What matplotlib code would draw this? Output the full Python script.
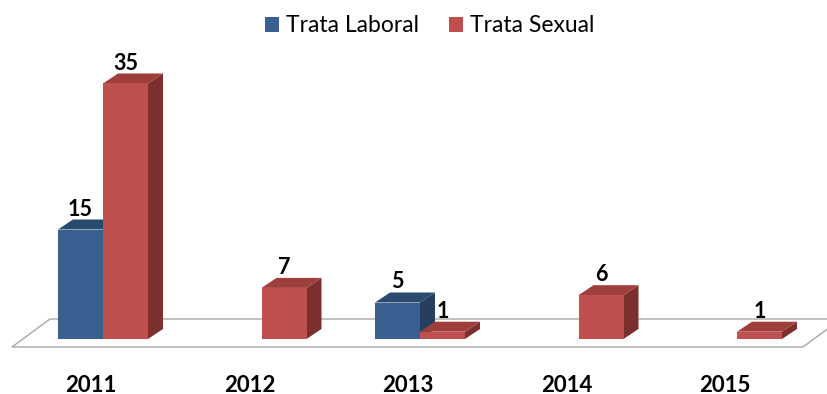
import numpy as np
import matplotlib
matplotlib.use("Agg")
import matplotlib.pyplot as plt
from matplotlib.patches import Polygon, Patch

years = ["2011", "2012", "2013", "2014", "2015"]
laboral = [15, np.nan, 5, np.nan, np.nan]
sexual = [35, 7, 1, 6, 1]
series_names = ["Trata Laboral", "Trata Sexual"]

# front, top, side shades for each series
blue = ("#3a6091", "#2b4a6f", "#243f5f")
red = ("#c0504d", "#9e3f3c", "#7c302e")

W, H = 828, 394
fig = plt.figure(figsize=(W / 100, H / 100), dpi=100)
ax = fig.add_axes([0, 0, 1, 1])

# pixel scale of the axes: 158.5 px per category, 7.3 px per unit
px_x, px_y = 158.5, 7.3
x0_px, y0_px = 103, 55
ax.set_xlim(-x0_px / px_x, (W - x0_px) / px_x)
ax.set_ylim(-y0_px / px_y, (H - y0_px) / px_y)
ax.axis("off")

bar_w = 45 / px_x
ddx, ddy = 15 / px_x, 10 / px_y


def bar3d(x_left, val, shades):
    front, top, side = shades
    x_r = x_left + bar_w
    ax.add_patch(Polygon([(x_r, 0), (x_r + ddx, ddy), (x_r + ddx, val + ddy), (x_r, val)],
                         closed=True, fc=side, ec="none", zorder=3))
    ax.add_patch(Polygon([(x_left, val), (x_r, val), (x_r + ddx, val + ddy), (x_left + ddx, val + ddy)],
                         closed=True, fc=top, ec="none", zorder=3))
    ax.add_patch(Polygon([(x_left, 0), (x_r, 0), (x_r, val), (x_left, val)],
                         closed=True, fc=front, ec="none", zorder=3))
    ax.text(x_left + bar_w / 2, val + ddy, f"{val:g}", ha="center", va="bottom",
            fontsize=15.5, fontweight="bold", family="Lato", color="black", zorder=4)


# floor
fl_front, fl_back = -8 / px_y, 20 / px_y
fl_l, fl_r = (12 - x0_px) / px_x, (803 - x0_px) / px_x
fdx = 38 / px_x
ax.add_patch(Polygon([(fl_l, fl_front), (fl_r, fl_front), (fl_r + fdx, fl_back), (fl_l + fdx, fl_back)],
                     closed=True, fc="white", ec="#a6a6a6", lw=1.0, zorder=1))

for i, yr in enumerate(years):
    if not np.isnan(laboral[i]):
        bar3d(i - bar_w, laboral[i], blue)
    if not np.isnan(sexual[i]):
        bar3d(i, sexual[i], red)
    ax.text(i - 12 / px_x, (394 - 385 - y0_px) / px_y, yr, ha="center", va="center",
            fontsize=16, fontweight="bold", family="Lato", color="black")

handles = [Patch(fc=blue[0]), Patch(fc=red[0])]
ax.legend(handles, series_names, loc="center", bbox_to_anchor=(0.519, 1 - 26 / 394),
          ncol=2, frameon=False, prop={"family": "Lato", "size": 16.5},
          handlelength=0.62, handleheight=0.62, handletextpad=0.3, columnspacing=1.3)

fig.savefig("out.png", dpi=100)
